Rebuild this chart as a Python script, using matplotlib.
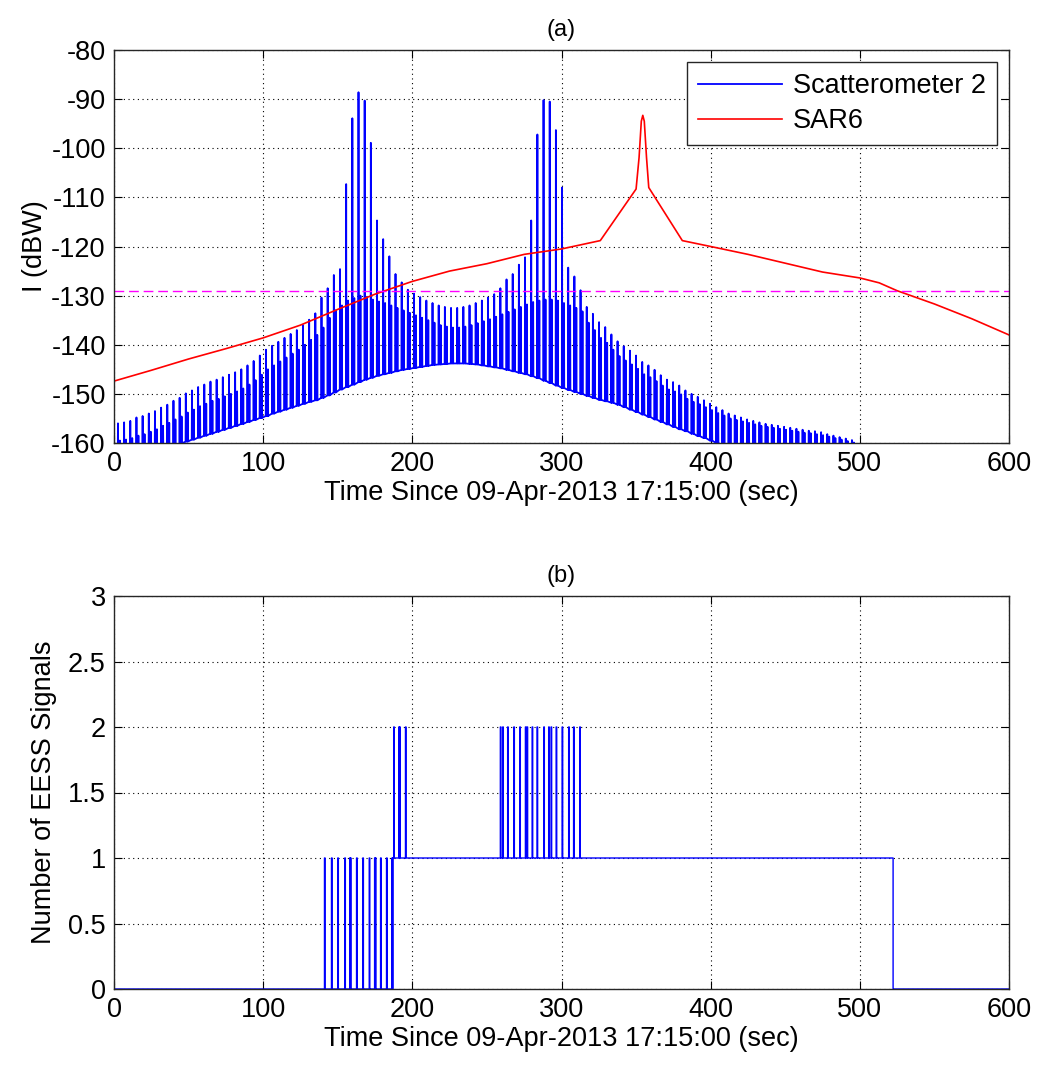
import numpy as np
import matplotlib.pyplot as plt

plt.rcParams['font.family'] = ['Liberation Sans', 'DejaVu Sans']
plt.rcParams['font.size'] = 19.5
plt.rcParams['axes.unicode_minus'] = False

# ---------------------------- DATA ---------------------------- #
# Scatterometer 2: one pulse per antenna sweep, a main spike and a second spike
SCAT_T0 = 2.5                # s, first sweep
SCAT_PERIOD = 4.135          # s between sweeps
scat_main = [
    -156.0, -155.8, -155.5, -154.8, -154.5, -154.0, -153.5, -152.8, -152.2, -151.4,
    -150.8, -149.9, -149.3, -148.6, -148.1, -147.5, -147.1, -146.6, -146.1, -145.6,
    -145.0, -144.2, -143.3, -142.2, -141.0, -140.2, -139.4, -138.6, -137.8, -137.0,
    -136.0, -134.9, -133.6, -130.4, -128.5, -125.8, -124.6, -107.3, -93.9, -88.6,
    -90.3, -98.9, -114.7, -118.5, -122.0, -125.6, -127.3, -128.8, -129.6, -130.3,
    -131.0, -131.5, -132.0, -132.3, -132.5, -132.5, -132.3, -132.0, -131.5, -131.0,
    -130.4, -129.7, -128.5, -126.7, -125.6, -123.7, -122.2, -114.7, -97.2, -90.2,
    -90.5, -96.3, -108.0, -124.3, -126.1, -128.9, -132.3, -133.7, -135.4, -136.4,
    -137.9, -139.3, -140.3, -141.2, -142.2, -143.5, -144.2, -145.1, -146.2, -147.1,
    -147.6, -148.3, -149.3, -150.0, -150.6, -151.3, -152.0, -152.7, -153.3, -154.0,
    -154.4, -154.8, -155.2, -155.5, -155.8, -156.1, -156.3, -156.5, -156.7, -156.9,
    -157.1, -157.3, -157.5, -157.6, -157.8, -158.2, -158.5, -158.8, -159.1, -159.4,
    -160.3, -161.0]
scat_second = [
    -159.5, -159.3, -159.0, -158.5, -158.2, -157.7, -157.2, -156.5, -155.9, -155.2,
    -154.6, -153.8, -153.2, -152.5, -152.0, -151.4, -151.0, -150.5, -150.0, -149.5,
    -148.9, -148.1, -147.2, -146.1, -145.0, -144.2, -143.4, -142.6, -141.8, -141.0,
    -140.0, -139.0, -138.0, -136.5, -134.5, -133.0, -132.0, -131.0, -130.5, -130.0,
    -130.3, -130.8, -131.2, -131.5, -132.0, -132.5, -133.0, -133.5, -134.0, -134.5,
    -135.0, -135.5, -136.0, -136.3, -136.5, -136.5, -136.3, -136.0, -135.6, -135.2,
    -134.8, -134.3, -133.8, -133.3, -132.8, -132.3, -131.8, -131.3, -131.0, -130.8,
    -130.8, -131.0, -131.5, -132.0, -132.5, -133.2, -135.5, -137.0, -138.6, -139.6,
    -141.0, -142.3, -143.2, -144.0, -144.9, -146.0, -146.6, -147.4, -148.3, -149.1,
    -149.5, -150.1, -151.0, -151.6, -152.1, -152.7, -153.3, -153.9, -154.4, -155.0,
    -155.3, -155.6, -155.9, -156.2, -156.5, -156.7, -156.9, -157.1, -157.3, -157.5,
    -157.7, -157.9, -158.0, -158.2, -158.4, -158.7, -159.0, -159.3, -159.6, -159.9,
    -160.8, -161.5]
scat_floor = [
    -164.2, -163.8, -163.4, -163.0, -162.6, -162.2, -161.8, -161.4, -161.0, -160.6,
    -160.1, -159.7, -159.3, -158.9, -158.5, -158.1, -157.7, -157.3, -156.9, -156.5,
    -156.1, -155.7, -155.3, -154.9, -154.5, -154.0, -153.6, -153.2, -152.8, -152.4,
    -152.0, -151.6, -151.3, -150.8, -150.3, -149.7, -149.1, -148.6, -148.1, -147.6,
    -147.1, -146.7, -146.3, -146.0, -145.7, -145.4, -145.1, -144.9, -144.7, -144.5,
    -144.3, -144.1, -144.0, -143.9, -143.8, -143.8, -143.8, -143.9, -144.0, -144.2,
    -144.4, -144.6, -144.8, -145.1, -145.4, -145.7, -146.0, -146.4, -146.8, -147.3,
    -147.8, -148.3, -148.8, -149.2, -149.6, -150.0, -150.4, -150.8, -151.2, -151.5,
    -151.8, -152.2, -152.7, -153.2, -153.7, -154.2, -154.7, -155.2, -155.7, -156.2,
    -156.7, -157.2, -157.6, -158.1, -158.6, -159.0, -159.5, -160.0, -160.5, -161.0,
    -161.5, -162.0, -162.5, -163.0, -163.5, -164.0, -164.5, -165.0, -165.5, -166.0,
    -166.5, -167.0, -167.5, -168.0, -168.5, -169.0, -169.5, -170.0, -170.5, -171.0,
    -171.5, -172.0]

# SAR6 received interference
sar_t = [0, 25, 50, 75, 100, 125, 150, 175, 200, 225, 250, 275, 300, 326,
         350, 352, 353.5, 354.5, 355.5, 357, 358.5, 381, 400, 425, 450, 475,
         500, 513, 525, 550, 575, 600]
sar_db = [-147.4, -145.2, -142.9, -140.8, -138.6, -136.0, -132.8, -129.7, -127.1,
          -125.0, -123.5, -121.6, -120.5, -118.8, -108.3, -101.9, -94.5, -93.3,
          -94.5, -101.9, -108.0, -118.8, -120.0, -121.6, -123.4, -125.2, -126.4,
          -127.4, -129.0, -131.7, -134.7, -138.0]

THRESHOLD = -129.0           # dBW, protection criterion

# number of EESS signals above threshold
sar_on, sar_off = 187.0, 522.3
pulses_to_1 = [141.1, 145.8, 150.0, 154.7, 158.0, 158.5, 162.6, 166.8, 171.1,
               174.7, 175.2, 178.7, 182.7, 186.3]
pulses_to_2 = [187.5, 190.9, 191.5, 195.4, 259.0, 260.6, 263.9, 268.0, 272.0,
               275.8, 276.9, 280.3, 283.6, 288.1, 291.4, 293.0, 296.4, 300.4,
               304.8, 308.1, 312.2]
PULSE_LEN = 0.4

XLABEL = 'Time Since 09-Apr-2013 17:15:00 (sec)'

# ---------------------------- BUILD SERIES ---------------------------- #
sweep_t = SCAT_T0 + SCAT_PERIOD * np.arange(len(scat_main))
offs = np.array([0.0, 0.15, 0.3, 1.3, 1.45, 1.6])
scat_tt = (sweep_t[:, None] + offs).ravel()
scat_vv = np.column_stack([scat_floor, scat_main, scat_floor,
                           scat_floor, scat_second, scat_floor]).ravel()

tgrid = np.arange(0, 600.001, 0.05)
count = ((tgrid >= sar_on) & (tgrid < sar_off)).astype(float)
for p in pulses_to_1 + pulses_to_2:
    count[(tgrid >= p) & (tgrid < p + PULSE_LEN)] += 1

# ---------------------------- PLOT ---------------------------- #
W, H = 1037, 1068
fig = plt.figure(figsize=(W / 100, H / 100), dpi=100)
ax1 = fig.add_axes([114 / W, 1 - 443 / H, 895 / W, 393 / H])
ax2 = fig.add_axes([114 / W, 1 - 989 / H, 895 / W, 393 / H])

grid_kw = dict(color='k', linestyle=(0, (1, 3.2)), linewidth=0.8)

ax1.plot(scat_tt, scat_vv, color='blue', lw=1.3, label='Scatterometer 2')
ax1.plot(sar_t, sar_db, color='red', lw=1.2, label='SAR6')
ax1.axhline(THRESHOLD, color='magenta', lw=1.0, linestyle=(0, (7, 3.5)))
ax1.set_xlim(0, 600)
ax1.set_ylim(-160, -80)
ax1.set_yticks(np.arange(-160, -79, 10))
ax1.set_ylabel('I (dBW)', labelpad=2)
ax1.set_title('(a)', fontsize=17, pad=10)
leg = ax1.legend(loc='upper right', fancybox=False, framealpha=1,
                 edgecolor='0.15', borderaxespad=0.45, handlelength=3.1,
                 handletextpad=0.4, labelspacing=0.35, borderpad=0.4)
leg.get_frame().set_linewidth(1.0)

ax2.plot(tgrid, count, color='blue', lw=1.0, drawstyle='steps-post')
ax2.set_xlim(0, 600)
ax2.set_ylim(0, 3)
ax2.set_yticks([0, 0.5, 1, 1.5, 2, 2.5, 3])
ax2.set_yticklabels(['0', '0.5', '1', '1.5', '2', '2.5', '3'])
ax2.set_ylabel('Number of EESS Signals', labelpad=8)
ax2.set_title('(b)', fontsize=17, pad=10)

for ax in (ax1, ax2):
    ax.set_xticks(np.arange(0, 601, 100))
    ax.set_xlabel(XLABEL, labelpad=2)
    ax.grid(True, **grid_kw)
    ax.tick_params(direction='in', length=6, width=0.8, top=True, right=True,
                   pad=6, colors='k')
    for s in ax.spines.values():
        s.set_linewidth(1.0)
        s.set_color('0.15')
        s.set_zorder(3)

fig.savefig('out.png', dpi=100)
